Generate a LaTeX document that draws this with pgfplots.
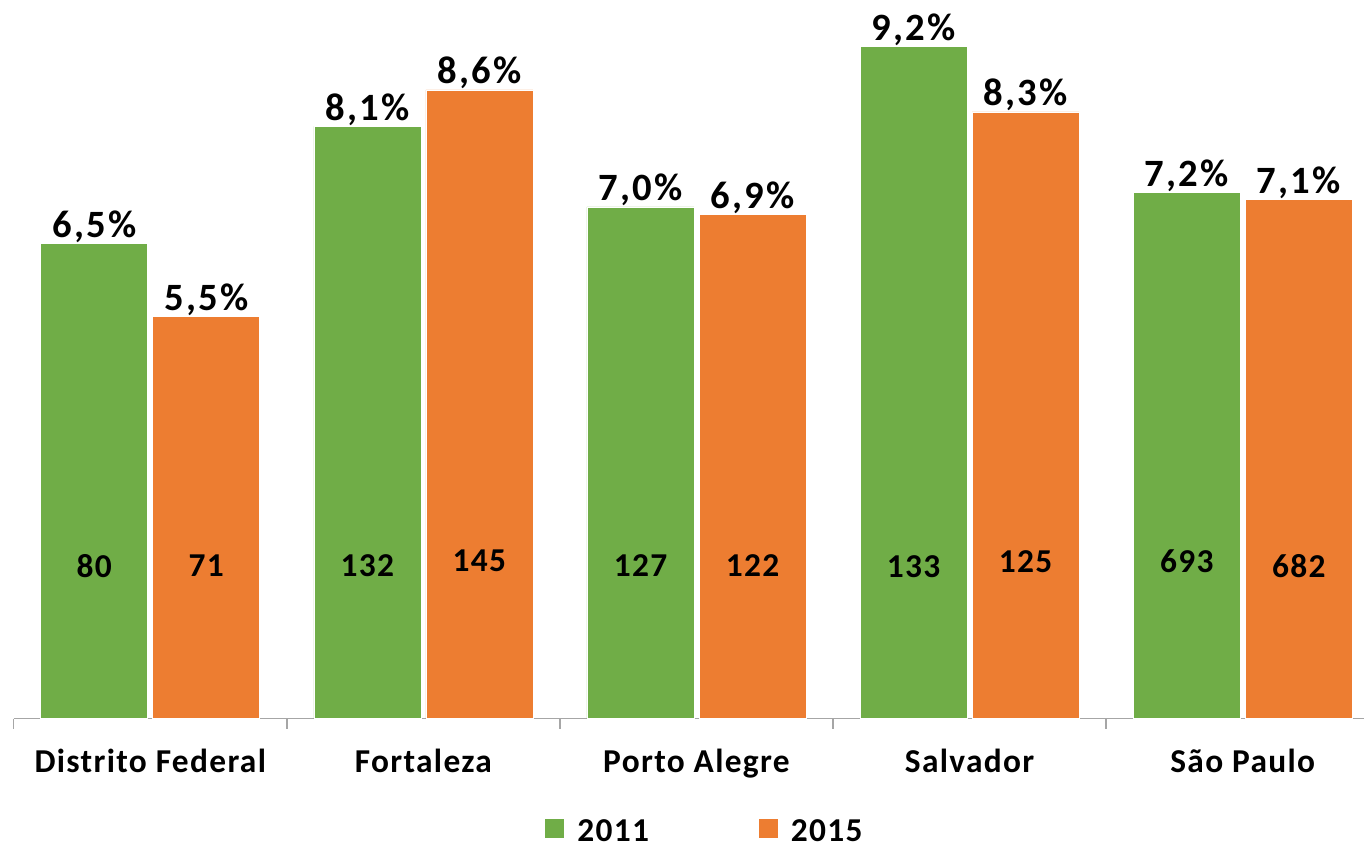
\documentclass[border=0pt]{standalone}
\usepackage{fontspec}
\setmainfont{Carlito}
\usepackage{pgfplots}
\usepackage{pgfplotstable}
\pgfplotsset{compat=1.18}
\definecolor{c2011}{RGB}{112,173,71}
\definecolor{c2015}{RGB}{237,125,49}
\definecolor{axgray}{RGB}{166,166,166}

% x: category, pct: share (%), n: count, ly: height of the count label
\pgfplotstableread{
x pct n ly
0 6.5 80 2.09
1 8.1 132 2.09
2 7.0 127 2.09
3 9.2 133 2.08
4 7.2 693 2.16
}\tabA
\pgfplotstableread{
x pct n ly
0 5.5 71 2.09
1 8.6 145 2.16
2 6.9 122 2.09
3 8.3 125 2.15
4 7.1 682 2.08
}\tabB

\newcommand{\pctfont}{\fontsize{22}{26}\selectfont\bfseries\addfontfeature{LetterSpace=6}}
\newcommand{\lblfont}{\fontsize{19}{22}\selectfont\bfseries\addfontfeature{LetterSpace=4}}

\begin{document}
\begin{tikzpicture}
\begin{axis}[
  x=54.62mm, y=14.62mm,
  xmin=-0.5, xmax=4.444, ymin=0, ymax=9.83,
  hide y axis,
  axis x line*=bottom,
  x axis line style={axgray, line width=0.9pt},
  xtick={0,...,4},
  xticklabels={Distrito Federal, Fortaleza, Porto Alegre, Salvador, São Paulo},
  minor xtick={-0.5,0.5,1.5,2.5,3.5},
  major tick length=0pt, minor tick length=2mm,
  tick align=outside,
  minor tick style={axgray, line width=0.9pt},
  xticklabel style={font=\lblfont, anchor=base, yshift=-10.8mm},
  /pgf/number format/assume math mode=true,
  clip=false,
  legend columns=2,
  legend style={draw=none, at={(0.512,0)}, anchor=center, yshift=-22.6mm,
    font=\lblfont,
    /tikz/every odd column/.append style={column sep=1.8mm},
    /tikz/every even column/.append style={column sep=21mm}},
  legend image code/.code={\fill[#1] (0,-1.4mm) rectangle (4mm,2.6mm);},
  bar width=21.4mm,
]
\addplot[ybar, bar shift=-11.2mm, fill=c2011, draw=white, line width=0.4pt,
  point meta=explicit,
  nodes near coords={\pgfmathprintnumber[fixed,fixed zerofill,precision=1,use comma]{\pgfplotspointmeta}\%},
  nodes near coords style={font=\pctfont, anchor=base, xshift=-11.2mm, yshift=1.2mm, text=black}]
  table[x=x, y=pct, meta=pct]{\tabA};
\addlegendentry{2011}
\addplot[ybar, bar shift=11.2mm, fill=c2015, draw=white, line width=0.4pt,
  point meta=explicit,
  nodes near coords={\pgfmathprintnumber[fixed,fixed zerofill,precision=1,use comma]{\pgfplotspointmeta}\%},
  nodes near coords style={font=\pctfont, anchor=base, xshift=11.2mm, yshift=1.2mm, text=black}]
  table[x=x, y=pct, meta=pct]{\tabB};
\addlegendentry{2015}
% counts inside the bars
\addplot[ybar, bar shift=-11.2mm, draw=none, fill=none, forget plot,
  point meta=explicit, nodes near coords,
  nodes near coords style={font=\lblfont, anchor=center, xshift=-11.2mm, text=black}]
  table[x=x, y=ly, meta=n]{\tabA};
\addplot[ybar, bar shift=11.2mm, draw=none, fill=none, forget plot,
  point meta=explicit, nodes near coords,
  nodes near coords style={font=\lblfont, anchor=center, xshift=11.2mm, text=black}]
  table[x=x, y=ly, meta=n]{\tabB};
\coordinate (bbA) at (rel axis cs:0,0);
\coordinate (bbB) at (rel axis cs:1,1);
\end{axis}
\pgfresetboundingbox
\path[use as bounding box] ([xshift=-2.74mm,yshift=-25.7mm]bbA) rectangle (bbB);
\end{tikzpicture}
\end{document}
